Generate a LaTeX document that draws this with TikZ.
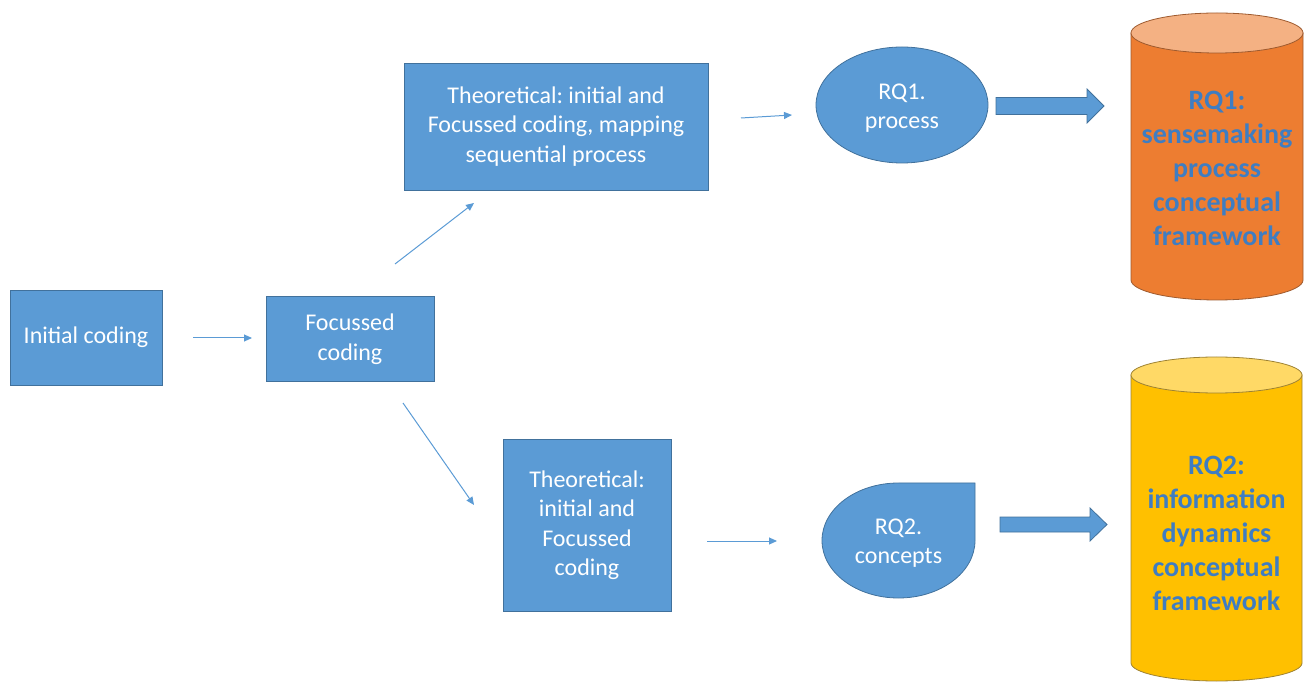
\documentclass[tikz,border=0pt]{standalone}
\usepackage{fontspec}
\setmainfont{Carlito}
\usetikzlibrary{arrows.meta,shapes.geometric}
\frenchspacing
\definecolor{boxblue}{HTML}{5B9BD5}
\definecolor{boxedge}{HTML}{41719C}
\definecolor{cylorange}{HTML}{ED7D31}
\definecolor{cylorangetop}{HTML}{F4B183}
\definecolor{cylorangeedge}{HTML}{9E5A2E}
\definecolor{cylyellow}{HTML}{FFC000}
\definecolor{cylyellowtop}{HTML}{FFD966}
\definecolor{cylyellowedge}{HTML}{9E8233}
\definecolor{labelblue}{HTML}{3F7DC2}
\tikzset{
  stagebox/.style={draw=boxedge, line width=0.8pt, fill=boxblue, text=white,
    align=center, inner sep=0pt,
    font=\fontsize{24}{29.5}\selectfont},
  rqtext/.style={text=white, align=center, font=\fontsize{24}{29}\selectfont},
  cyltext/.style={text=labelblue, align=center,
    font=\bfseries\fontsize{28}{34}\selectfont},
  thinarrow/.style={draw=boxblue, line width=1pt,
    -{Triangle[length=8pt,width=7pt]}},
  blockarrow/.style={draw=boxedge, line width=0.8pt, fill=boxblue},
}
\begin{document}
\begin{tikzpicture}[x=1pt,y=1pt]
\useasboundingbox (0,0) rectangle (1311,683);

% coding stages
\node[stagebox, minimum width=152, minimum height=95] (initial) at (86,345.5) {Initial coding};
\node[stagebox, minimum width=168, minimum height=85] (focus) at (350,344) {Focussed\\coding};
\node[stagebox, minimum width=304, minimum height=127] (theoA) at (556,556.5)
  {Theoretical: initial and\\Focussed coding, mapping\\sequential process};
\node[stagebox, minimum width=168, minimum height=172] (theoB) at (587,158)
  {Theoretical:\\initial and\\Focussed\\coding};

% research question shapes
\node[ellipse, draw=boxedge, line width=0.8pt, fill=boxblue, minimum width=172,
  minimum height=116, inner sep=0pt] (rq1) at (902,578) {};
\node[rqtext] at (902,575) {RQ1.\\process};

\draw[draw=boxedge, line width=0.8pt, fill=boxblue]
  (975,200) -- (898.5,200)
  arc[start angle=90, end angle=360, x radius=76.5, y radius=57.5] -- cycle;
\node[rqtext] (rq2) at (898.5,140) {RQ2.\\concepts};

% block arrows towards the frameworks
\draw[blockarrow] (996,585.5) -- (1087,585.5) -- (1087,594) -- (1104,577)
  -- (1087,560) -- (1087,568.5) -- (996,568.5) -- cycle;
\draw[blockarrow] (1000,166) -- (1090,166) -- (1090,175) -- (1107,158.5)
  -- (1090,142) -- (1090,151) -- (1000,151) -- cycle;

% framework cylinders
\draw[draw=cylorangeedge, line width=0.8pt, fill=cylorange]
  (1131,650) -- (1131,403)
  arc[start angle=180, end angle=360, x radius=86, y radius=20]
  -- (1303,650) -- cycle;
\draw[draw=cylorangeedge, line width=0.8pt, fill=cylorangetop]
  (1217,650) ellipse[x radius=86, y radius=20];
\node[cyltext] (fw1) at (1217,515)
  {RQ1:\\sensemaking\\process\\conceptual\\framework};

\draw[draw=cylyellowedge, line width=0.8pt, fill=cylyellow]
  (1131,308) -- (1131,20)
  arc[start angle=180, end angle=360, x radius=85.5, y radius=18]
  -- (1302,308) -- cycle;
\draw[draw=cylyellowedge, line width=0.8pt, fill=cylyellowtop]
  (1216.5,308) ellipse[x radius=85.5, y radius=18];
\node[cyltext] (fw2) at (1216.5,150)
  {RQ2:\\information\\dynamics\\conceptual\\framework};

% thin connectors between the stages
\coordinate (a1) at (193,345);  \coordinate (a2) at (252,345);
\coordinate (b1) at (395,419);  \coordinate (b2) at (474,480);
\coordinate (c1) at (403,280);  \coordinate (c2) at (474,178);
\coordinate (d1) at (741,565);  \coordinate (d2) at (792,568);
\coordinate (e1) at (707,142);  \coordinate (e2) at (777,142);
\draw[thinarrow] (a1) -- (a2);
\draw[thinarrow] (b1) -- (b2);
\draw[thinarrow] (c1) -- (c2);
\draw[thinarrow] (d1) -- (d2);
\draw[thinarrow] (e1) -- (e2);
\end{tikzpicture}
\end{document}
